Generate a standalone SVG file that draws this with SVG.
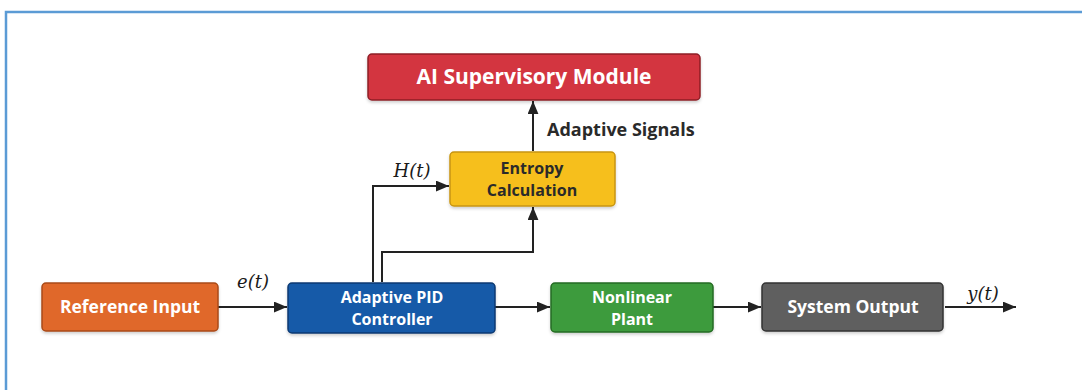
<svg xmlns="http://www.w3.org/2000/svg" width="1082" height="390" viewBox="0 0 1082 390">
<defs>
<style>
.box{stroke-width:1.5}
.lbl{font-family:"Open Sans","Liberation Sans",sans-serif;font-weight:700;text-anchor:middle}
.two{font-size:16px}
.one{font-size:17.5px}
.w{fill:#ffffff}
.d{fill:#2a2a2a}
.math{font-family:"DejaVu Serif","Liberation Serif",serif;font-style:italic;font-size:18px;fill:#1a1a1a;text-anchor:middle}
.wire{fill:none;stroke:#222222;stroke-width:2}
</style>
<marker id="arr" viewBox="0 0 12 10" refX="12" refY="5" markerWidth="13" markerHeight="11" markerUnits="userSpaceOnUse" orient="auto">
<path d="M0,0 L12,5 L0,10 z" fill="#222222"/>
</marker>
<filter id="sh" x="-10%" y="-20%" width="120%" height="150%">
<feDropShadow dx="0" dy="2" stdDeviation="1.5" flood-color="#000" flood-opacity="0.18"/>
</filter>
</defs>
<rect width="1082" height="390" fill="#ffffff"/>
<path d="M6,390 V12 H1082" fill="none" stroke="#5b9bd5" stroke-width="2.5"/>

<g id="connectors">
<line class="wire" x1="533" y1="151" x2="533" y2="101" marker-end="url(#arr)"/>
<line class="wire" x1="218" y1="307" x2="287" y2="307" marker-end="url(#arr)"/>
<line class="wire" x1="495" y1="307" x2="550" y2="307" marker-end="url(#arr)"/>
<line class="wire" x1="713" y1="307" x2="761" y2="307" marker-end="url(#arr)"/>
<line class="wire" x1="945" y1="307" x2="1016" y2="307" marker-end="url(#arr)"/>
<polyline class="wire" points="373,282 373,186 449,186" marker-end="url(#arr)"/>
<polyline class="wire" points="382,282 382,252 533,252 533,207" marker-end="url(#arr)"/>
<text class="lbl d" x="547" y="136" style="text-anchor:start;font-size:18px">Adaptive Signals</text>
<text class="math" x="253" y="288">e(t)</text>
<text class="math" x="412" y="177">H(t)</text>
<text class="math" x="983" y="300">y(t)</text>
</g>

<g id="ai-module">
<rect class="box" x="368" y="54" width="332" height="46" rx="4" fill="#d3353f" stroke="#8e1f27" filter="url(#sh)"/>
<text class="lbl w" x="534" y="84" style="font-size:21px">AI Supervisory Module</text>
</g>

<g id="entropy">
<rect class="box" x="450" y="152" width="165" height="54" rx="4" fill="#f6bf1e" stroke="#c8950f" filter="url(#sh)"/>
<text class="lbl d two" x="532" y="174">Entropy</text>
<text class="lbl d two" x="532" y="196">Calculation</text>
</g>

<g id="reference-input">
<rect class="box" x="42" y="283" width="176" height="48" rx="4" fill="#e0682a" stroke="#a94a18" filter="url(#sh)"/>
<text class="lbl w one" x="130" y="313">Reference Input</text>
</g>

<g id="pid-controller">
<rect class="box" x="288" y="283" width="207" height="50" rx="4" fill="#165aa8" stroke="#0d3a72" filter="url(#sh)"/>
<text class="lbl w two" x="392" y="303">Adaptive PID</text>
<text class="lbl w two" x="392" y="325">Controller</text>
</g>

<g id="nonlinear-plant">
<rect class="box" x="551" y="283" width="162" height="49" rx="4" fill="#3e9b3c" stroke="#256b24" filter="url(#sh)"/>
<text class="lbl w two" x="632" y="303">Nonlinear</text>
<text class="lbl w two" x="632" y="325">Plant</text>
</g>

<g id="system-output">
<rect class="box" x="762" y="283" width="181" height="48" rx="4" fill="#5f5f5f" stroke="#333333" filter="url(#sh)"/>
<text class="lbl w one" x="853" y="313">System Output</text>
</g>
</svg>
